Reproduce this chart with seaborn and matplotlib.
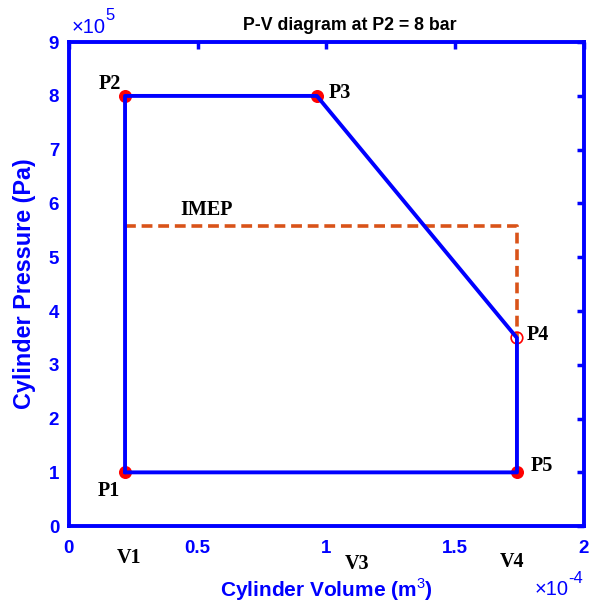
import matplotlib
matplotlib.use("Agg")
import matplotlib.pyplot as plt
import seaborn as sns
import pandas as pd

# data
point_names = ["P1", "P2", "P3", "P4", "P5"]
volumes = [0.218e-4, 0.218e-4, 0.963e-4, 1.74e-4, 1.74e-4]
pressures = [1.0e5, 8.0e5, 8.0e5, 3.5e5, 1.0e5]
imep = 5.58e5
vol_names = ["V1", "V3", "V4"]
vol_label_x = [0.235e-4, 1.12e-4, 1.72e-4]
vol_label_y = [-0.6e5, -0.71e5, -0.67e5]
x_ticks = [0, 0.5e-4, 1.0e-4, 1.5e-4, 2.0e-4]
x_tick_labels = ["0", "0.5", "1", "1.5", "2"]
y_ticks = [i * 1e5 for i in range(10)]
y_tick_labels = [str(i) for i in range(10)]

sns.set_style("white")
plt.rcParams["font.family"] = ["Liberation Sans", "DejaVu Sans"]
plt.rcParams["mathtext.fontset"] = "custom"
plt.rcParams["mathtext.rm"] = "Liberation Sans"
plt.rcParams["mathtext.bf"] = "Liberation Sans:bold"

BLUE = "#0000FF"
ORANGE = "#D95319"

fig = plt.figure(figsize=(5.94, 6.02), dpi=100)
ax = fig.add_axes([0.116, 0.126, 0.867, 0.804])

# cycle path
cyc = pd.DataFrame({
    "V": volumes + [volumes[0]],
    "P": pressures + [pressures[0]],
})
# IMEP dashed path
imep_df = pd.DataFrame({
    "V": [volumes[0], volumes[3], volumes[3]],
    "P": [imep, imep, pressures[3]],
})

sns.lineplot(data=imep_df, x="V", y="P", sort=False, estimator=None, ax=ax,
             color=ORANGE, lw=2.6, linestyle=(0, (3.0, 1.6)), zorder=2)

pts = pd.DataFrame({"V": volumes, "P": pressures, "name": point_names})
filled = pts[pts["name"] != "P4"]
hollow = pts[pts["name"] == "P4"]
sns.scatterplot(data=filled, x="V", y="P", ax=ax, color="red", s=70,
                edgecolor="red", linewidth=1, zorder=3)
sns.scatterplot(data=hollow, x="V", y="P", ax=ax, facecolor="none", s=70,
                edgecolor="red", linewidth=1.2, zorder=3)
sns.lineplot(data=cyc, x="V", y="P", sort=False, estimator=None, ax=ax,
             color=BLUE, lw=2.8, zorder=4)

# point labels
lab_font = dict(family=["Liberation Serif", "DejaVu Serif"], fontweight="bold",
                fontsize=14.5, color="black")
offsets = {"P1": (-0.62e-5, -0.35e5), "P2": (-0.58e-5, 0.22e5),
           "P3": (0.88e-5, 0.05e5), "P4": (0.8e-5, 0.05e5),
           "P5": (0.95e-5, 0.12e5)}
for n, v, p in zip(point_names, volumes, pressures):
    dx, dy = offsets[n]
    ax.text(v + dx, p + dy, n, ha="center", va="center", **lab_font)
ax.text(0.535e-4, 5.88e5, "IMEP", ha="center", va="center", **lab_font)
for n, x, y in zip(vol_names, vol_label_x, vol_label_y):
    ax.text(x, y, n, ha="center", va="center", clip_on=False, **lab_font)

ax.set_xlim(0, 2e-4)
ax.set_ylim(0, 9e5)
ax.set_xticks(x_ticks)
ax.set_xticklabels(x_tick_labels)
ax.set_yticks(y_ticks)
ax.set_yticklabels(y_tick_labels)
ax.tick_params(axis="both", direction="in", length=5, width=2.5, colors=BLUE,
               labelsize=13.5, top=True, right=True)
ax.tick_params(axis="x", pad=10)
ax.tick_params(axis="y", pad=7)
for lab in ax.get_xticklabels() + ax.get_yticklabels():
    lab.set_fontweight("bold")
for sp in ax.spines.values():
    sp.set_color(BLUE)
    sp.set_linewidth(2.8)

ax.set_xlabel("Cylinder Volume (m$^3$)", color=BLUE, fontsize=15,
              fontweight="bold", labelpad=14)
ax.set_ylabel("Cylinder Pressure (Pa)", color=BLUE, fontsize=16.8,
              fontweight="bold", labelpad=9)
ax.set_title("P-V diagram at P2 = 8 bar", fontsize=12.8, fontweight="bold",
             color="black", pad=9, x=0.545)

# axis exponent labels
fig.text(0.121, 0.946, "\u00d710", color=BLUE, fontsize=14.5,
         ha="left", va="baseline")
fig.text(0.178, 0.966, "5", color=BLUE, fontsize=12,
         ha="left", va="baseline")
fig.text(0.900, 0.012, "\u00d710", color=BLUE, fontsize=14.5,
         ha="left", va="baseline")
fig.text(0.957, 0.032, "-4", color=BLUE, fontsize=12,
         ha="left", va="baseline")

fig.savefig("out.png", dpi=100)
